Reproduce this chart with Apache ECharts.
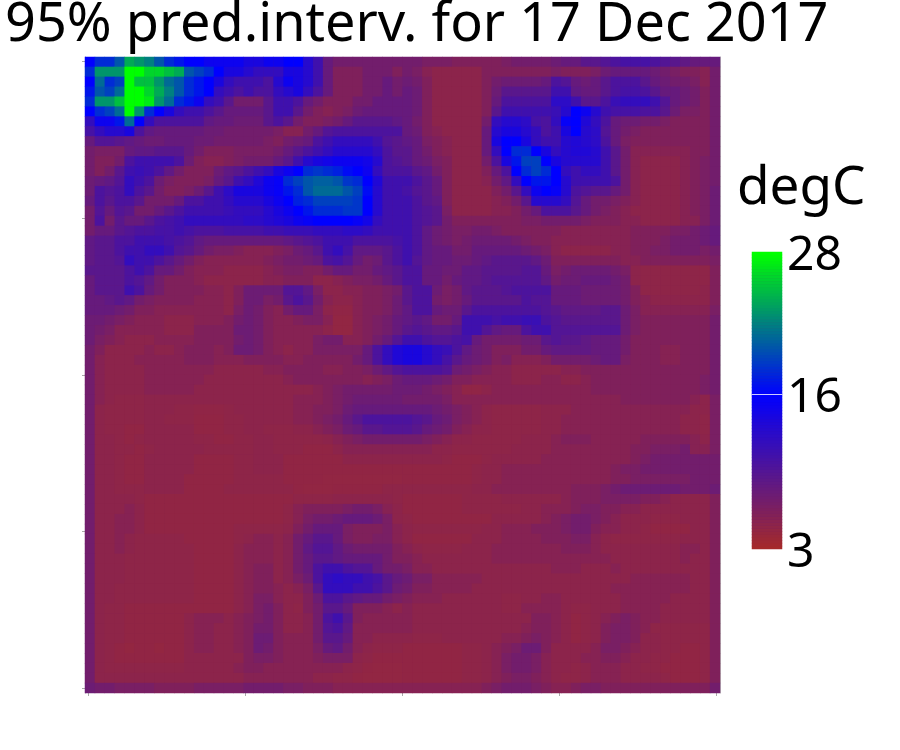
<!DOCTYPE html>
<html>
<head>
<meta charset="utf-8">
<title>95% pred.interv.</title>
<script src="https://cdn.jsdelivr.net/npm/echarts@6/dist/echarts.min.js"></script>
<style>
	html, body { margin: 0; padding: 0; background: #fff; }
	#chart { width: 900px; height: 750px; }
</style>
</head>
<body>
<div id="chart"></div>
<script>
var chartTitle = "95% pred.interv. for 17 Dec 2017";
var barTitle = "degC";
var barTicks = [3, 16, 28];
var axisSteps = [0, 1, 2, 3, 4];

// degC per cell, top row first (64 x 64)
var cells = [
[16,18,18,20,24,23,22,20,18,17,16,16,15,15,15,15,14,14,15,15,16,16,13,11,8,7,7,7,7,7,7,7, 7,7,6.5,6.5,6.5,6,6,6,6,6,6.5,7,7,7,7,7.5,8,8,9,9,9.5,10,10.5,10.5,10.5,10,9.5,9,8.5,8,8,8],
[18,23,23,23,28,28,26,26,25,24,20,19,18,16,14,14,13,12,12,12,14,14,13,11,8,6,6,6,7,7,7,6, 7,6.5,5.5,5,5,5,5,5,6,6,6,6,6,6,6,6.5,6,6,6,6.5,7.5,8,8,8,8,7.5,7,6.5,6,6,5.5,7],
[16,21,18,19,28,25,25,23,21,20,18,17,16,14,12,11,11,11,10,13,15,14,13,11,8,6,6,6,7,7,8,7, 7.5,7,6,5,5,5,5,5,6,7,7.5,7.5,7.5,7.5,8,10,9.5,8,7.5,8,9,10,10,10,9,8,7.5,7,7,6.5,5.5,7],
[17,20,19,21,28,28,26,24,22,20,18,17,16,12,11,10,11,10,10,12,13,14,12,10,8,6,6,6,7,7,8,7, 8,7.5,6,5,5,5,5,5,6,7.5,9,9,9,9,9,11,11,8.5,8,8,9,10,10.5,10.5,10,9,8,8,7.5,7,6,7],
[18,23,23,25,28,28,27,23,21,18,17,15,12,11,9,7,7,7,9,11,11,10,8,7,6,6,6,7,7,8,8,8, 8,7.5,6,5,5,5,5,5,6,8,10,10,10,10,10,12.5,12.5,11,9,9,10,11.5,12,12,12,11,9.5,8,7.5,7,6,7],
[16,18,19,21,28,23,18,16,14,12,11,11,10,9,8,8,8,8,9,11,11,9,7,6,5.5,6,6.5,7.5,8,8,8,8, 8,7.5,6,5,5,5,5,5,6,9,11,11,11,11,11,11.5,13,16,15,13,11,10.5,10.5,10.5,10,10,9,7.5,6.5,6.5,6,7],
[12,15,15,17,21,16,12,10,10,10,10,10,8.5,8,8,7.5,7.5,7.5,9,10,9,7,6,6,6.5,7,8,9,9,9,9,8.5, 8,7,6,5,5,5,5,5,7,12,13,13,12.5,10.5,10,12,15.5,16,13.5,12,10,8,7.5,7.5,7,7,6.5,6,6,6,6,7],
[10.5,12,13,13,14,10,8.5,8,8,8,8,8,7.5,7.5,7,7,7,7,7,6.5,5.5,5.5,7,8,9.5,10,10,10,10,10,10,10, 8,7.5,6,5.5,5,5,5,5,8,13,14,14,13,12,10,11,14,16,13,12.5,9.5,8,7,6.5,6,6,6,6,6,6,6,7],
[8,9.5,9.5,9,8.5,8,7.5,7.5,8,8,8,7.5,7.5,7,7,7,7,7,6.5,6,7,7.5,8,10,11,12,12,12,12,11,9.5,9, 8.5,8,6.5,6,5.5,5,5,5,8,14,16,16,14,12,11,11,13,13.5,13,12.5,10,8,6.5,6,6,6,6,6,6,6,6,7],
[7,6.5,6.5,6.5,8,8.5,8.5,9,9,9,8,7,6,6,6,6.5,6.5,6.5,6.5,7,8,9,10,11,12,13,13,13,13,12,10,9, 9,8,7,6,5.5,5,5,5,8,12,16,18,18,16,14,12,13,13.5,13.5,13,11,9,7,5.5,5.5,5.5,5.5,5.5,5.5,6,6,7],
[7,6,6,7,10,11,11,11,11,10,7.5,6,5.5,5.5,6,6.5,7,7,7,8,9,11,13,14,14.5,15,15,15,14.5,13,10,9.5, 9,8,7.5,6.5,6,5,5,5,7,10,14,17,19,19,16,14,13,13,13,13,11,9,7,5.5,5,5,5,5,5.5,6,6.5,7],
[7,6,7,9,11,11.5,11,10,8.5,7,6,6,6,7.5,8.5,9,10,11,12,14,15,16,18,18.5,18,17.5,16.5,16,15,12,10,10, 10,9,8.5,7,6,5,5,5,6,8,10,16,18,19,18,16,12,11,12,12,11,9,7,5.5,5,5,5,5,5.5,6,6.5,7],
[7.5,8,8.5,9.5,12,11,10,7.5,6.5,6,6,6,6.5,8,9,11,12,13.5,15,15.5,18,19,20,20.5,20.5,20,18.5,18,16,13.5,11,11, 11,10,9,8,6,5,5,5,5.5,7,8.5,12,16,17,17,16,13,11,11,11,11,10,7,5.5,5,5,5,5,5.5,6,6.5,7],
[7.5,10,9.5,10,12,10,9,7,6,6,6.5,7.5,9,11,12.5,14,14,14,15,15.5,17,18,20,21,21,21,20,19,16.5,13,11,11, 10.5,9.5,9,8,6,5,5,5,5,6,7,9,12,15,16,15.5,13,10,9.5,9,9,8,7,5.5,5,5,5,5,5.5,6,6.5,7.5],
[8,10,9,10,10,9,7,7,7,8,10,10,11,11,12,13,13,13,14,15,16,17.5,18,19,19,19,19,18.5,16,13,11,11, 11,10,9,8.5,6,5,5,5,5,5.5,6,7,9,13,13,13,12,9.5,8,7,7,6.5,6,5.5,5,5,5,5,5.5,6,6.5,7.5],
[7,9.5,8,9.5,9,7,7,8,9,10,11,11,11,11,11.5,12,12,12,13,14,15,16,17,18,18,18,18.5,18.5,16,13,11,11, 11,10,9.5,9,6.5,5,5,5,5,5.5,5.5,6,7,8,10,10,10,9,8,7,6.5,6,5.5,5,5,5,5,5,5.5,6,6.5,7.5],
[7,10,7,9,8,8,9,10,10.5,11,12,12,12,12,12,12,12.5,12.5,13,13.5,14,15,15.5,16,16,16,16,15.5,14.5,12,11,11, 11,10,9.5,9,7,6,6,6,6,6,6,6,6.5,6.5,7,7,7,7,6.5,6,6,6,5.5,5.5,5,5,5,5,5.5,5.5,6.5,7.5],
[7,8,8,9,9.5,10,10,10.5,10.5,11,10.5,10,10,10,10.5,10.5,10.5,10.5,11,11,11.5,11.5,11.5,12,12,12,12.5,12.5,12,11,11,11, 11,10,8.5,7.5,7,6.5,6.5,7,7,6.5,6,6,6,6,6,6,5.5,5.5,5.5,5.5,5.5,5.5,5.5,6,6,6,6,6.5,6.5,7,7.5,8],
[8.5,9,9,10,10,11,11,11,10.5,10,9.5,8.5,8,8,8,8,8,8,8,8,8.5,9,9.5,10,11,11,11,10,10,10,10,10.5, 11,10,8.5,7.5,7,6.5,7,7.5,7.5,7.5,7.5,7,6.5,6,6,5.5,5.5,5.5,5.5,5.5,5.5,5.5,5.5,6,6,6,6.5,7,7,7,7.5,8],
[8.5,9,9,10,11,11,12,12,11,9.5,9,8,7,6.5,6.5,6,5.5,5.5,5.5,6,6.5,7.5,8,9,11,12,10.5,8.5,8.5,8.5,9,10, 11,10,8.5,8,8,7,7,8,8,8,8,8,7.5,7,6.5,5.5,5,5,5,5,5,5.5,5.5,6,6,6.5,6.5,7,7,7,6.5,7],
[8.5,9,9,9.5,12,11,11,10,9,8,7,6,5.5,5.5,5.5,5.5,5.5,5.5,6,6.5,7,7,7.5,8,10,10.5,9.5,8,7,7.5,9,10, 11,9.5,8.5,8,8,7.5,7.5,8,8.5,9,9,9,9,8.5,7.5,6,6,6,6,6,6,6,5.5,5.5,6,6,6,6,6,6,6,6.5],
[9,9,9,9,10,11,10,8,8,7,6,5.5,5.5,5.5,5,5,5,5,5.5,6,6.5,6.5,6,6,7,8,8,7,7,8,8.5,9, 10,10,8,8,7.5,7.5,8.5,8.5,9,9,9,9,9.5,9.5,8,6.5,7,7.5,7.5,7.5,7.5,7,6.5,5,4.8,4.8,4.8,4.8,4.8,4.8,4.8,6],
[8,9,9,9,10,9.5,8.5,7,6,6,6,5.5,5,5,5,5,5,5,5.5,5.5,6,6,6,5,5,5.5,6,6.5,6.5,7,8,9, 10,10,8,8,7,8,8.5,8.5,9,9.5,9.5,9.5,9.5,9.5,8.5,7,7.5,7.5,8,8,8,7.5,7,5,4.8,4.8,4.8,4.8,4.8,4.8,4.8,6],
[8,9,9,9,11,10,8,7,6,6,6,6,5.5,5.5,5,6,7.5,7.5,7.5,7.5,9.5,9.5,8.5,6.5,5,5,5.5,5.5,6,6,6.5,7, 9,10,10,7.5,6.5,7,8.5,9,9,9,9.5,10,10,10,10,8,8,8,7.5,7.5,7.5,7.5,7,6,4.8,4.8,4.8,4.8,4.8,4.8,5,6],
[8,8,8.5,9,8.5,7,6.5,6,6,6,6,5.5,5.5,5.5,5,6,7.5,7.5,6.5,7,9,10,9,7,5.5,5,5,5.5,6,6,6.5,7.5, 9,10,10,7,6.5,7,8,9,9,9,9,9,10,9.5,9.5,8,8,8,7.5,7.5,7.5,7.5,7,6,5.5,5,5,5,5,5,5,6],
[8,8,8,7.5,7,6,6,5.5,5.5,5.5,5.5,5.5,5.5,5.5,5,6.5,7.5,7,6,5.5,7,8,8,6.5,5,4.7,4.7,5.5,6,6,6.5,7.5, 8.5,10,10,8,7.5,7.5,9,10,10,10,10,10,10,10,9.5,9,8.5,8.5,8.5,8.5,9,9,7.5,6.5,5.5,5.5,5.5,5.5,5.5,5.5,5.5,6.5],
[7.5,7.5,7,6.5,6,5.5,5.5,5.5,5,5,5,5.5,5.5,5.5,6,7,7.5,7,6,5.5,5.5,6,6.5,6.5,5.5,4.5,4.5,5.5,6,6.5,7,8, 8.5,9,8.5,7,7,8,11,11,11,10.5,11,11,11.5,11.5,10,9.5,9,9,9,9,9,9,7.5,6.5,6,6,6,6,6,6,6,7],
[7.5,7,6.5,5.5,5.5,5.5,5.5,5.5,5,5,5,6,6,6,6,7.5,7.5,7,6,5.5,5.5,5.5,5.5,5.5,5,4.5,4.5,5.5,6,6.5,7,8, 9,9.5,9,8.5,8.5,9,11,11,9.5,8.5,8,8,10,11,11,9.5,9.5,9.5,9.5,9.5,9.5,9.5,7.5,6.5,6,6,6,6,6,6,6,7],
[7.5,6.5,6,5.5,5,5,5,5.5,5.5,5.5,5.5,6,6,6,6,7,7.5,7,6,5.5,5.5,5.5,5.5,6.5,7,7,5.5,5.5,6,7,8,9.5, 11,11,10,9.5,9.5,10,10.5,8,7,7,7,7,7.5,7.5,9,9.5,9,9,8.5,8,8,8,7,6,6,6,6,6,6,6,6,7],
[7,6,5,5,5,5,5.5,5,5,5.5,6,6,6,5.5,6,7.5,7.5,7,6,5.5,5,5.5,5.5,6.5,6.5,6.5,6.5,6.5,8,10,12,13.5, 14,14,13,12,11.5,10,8.5,7.5,7,6,6,6,7,7,8,8.5,8.5,8.5,8.5,8,8,8,7,6,6,6,5.5,5.5,6,6,6,7],
[7,5.5,5,5,5,5.5,5.5,5.5,5.5,5.5,6,6,6,5.5,5.5,5.5,6,6,6,6,5.5,5.5,6,6,6,6,6,7,8,10,12,13.5, 14,14,13,12,10.5,9,8,7.5,7,6,6.5,5.5,5.5,5.5,6,7,7,7,7,7.5,8,8,6.5,6,6,6,5.5,5.5,6,6,6,7],
[7,5.5,5,5,5,5,5.5,5.5,5.5,5.5,5.5,5.5,5.5,5,5,5,5,5,5.5,5.5,6,6,6,6,5.5,5.5,6,6,6.5,7.5,8.5,9.5, 10,10,10,10,9.5,7.5,7,6.5,6,5.5,5.5,5,5,5,5,5,5.5,5.5,6,6,6,6,6,6,6,6,6,6,6,6,6,7],
[7,5.5,5,5,5,5,5.5,5.5,5.5,5.5,5.5,5.5,5,5,5,5,5,5,5,5,5.5,6,6,6,6,6,6,6,5.5,6,6.5,7.5, 8,8,8,7.5,7,6,6,5.5,5.5,5.5,5.5,5,5,5,5.5,5.5,5,5,5.5,6,6,6,6,6,6,6,6,6,6,6,6.5,7],
[7,5.5,5,5,5,5,5.5,5.5,5.5,5.5,5.5,5,5,5,5,5,5,5,5,5,5,5,5,5.5,6,6.5,7,7,7,7,7,7.5, 7.5,7.5,7,6.5,6,5.5,4.7,4.7,5,5.5,5.5,5.5,5.5,5.5,5.5,5.5,5.5,5.5,5.5,6,6,6,6,6,6,6,6,6,6,6,6.5,7],
[7,5.5,5,4.8,4.8,4.8,5,5,5,5,5,5,5,5,5,5,5,5,5,5,5,5.5,5.5,5.5,6,6.5,7,7.5,7.5,7.5,7.5,7.5, 7,7,7,7,6.5,5.5,5.5,5.5,5.5,5.5,5.5,5.5,5.5,5.5,5.5,5.5,5.5,5.5,5.5,5.5,5.5,5.5,6,6,6,6,6,6,6,5.5,5,6.5],
[7,5,4.8,4.8,4.8,4.8,5,5,5,4.8,4.8,4.7,4.7,4.7,4.8,5,5,5,5,5,5,5.5,5.5,6,6,6.5,7.5,8,8,8,8,8, 8,8,8,7.5,7,6.5,6,5.5,5,4.8,4.8,4.8,4.8,4.8,5,5,5,5.5,5.5,5.5,5.5,5.5,5.5,5.5,5.5,5.5,5.5,5.5,5.5,5,5,6.5],
[7,5,4.8,4.8,4.8,4.8,5,5,4.8,4.8,4.8,4.6,4.6,4.6,4.8,4.8,5,5,5,5,5,5.5,5.5,6,6.5,7,8,9,10,10,10,10, 10,9.5,9,8,7.5,6.5,6,5.5,5,4.8,4.8,4.8,4.8,4.8,5,5,5.5,5.5,5.5,5.5,5.5,5.5,5.5,5.5,5.5,5.5,5.5,5.5,5,5,4.8,6.5],
[7,5,4.8,4.8,4.6,4.6,5,5,5,5,5,4.6,4.6,4.6,4.8,4.8,5,5,4.8,4.8,4.8,5,5,5.5,6,6.5,7.5,8,9,9,9.5,9.5, 9.5,9,8,7.5,7,6,5.5,5,5,4.8,4.8,4.8,4.8,4.8,5,5,5.5,5.5,5.5,5.5,5.5,5.5,5.5,5.5,5.5,5.5,5.5,5.5,5,5,4.8,6.5],
[7,5,5,4.8,4.6,4.8,5,5,5,5,5,4.8,4.8,4.6,4.6,4.8,4.8,5,5,4.8,4.8,4.8,4.8,4.8,5,5.5,6,6.5,7,7,7,7, 7,7,6.5,6,5.5,5,5,4.8,4.8,4.8,4.8,4.8,5,5,5,5.5,6,6,6,5.5,5.5,5.5,5.5,5.5,6,6,6,6,6,5.5,5,6.5],
[7,5,5,4.8,4.8,4.6,4.8,5,5,5,5,5,4.8,4.8,4.8,4.8,4.8,5,5,4.8,4.8,4.8,4.6,4.6,4.6,5,5.5,5.5,5.5,5.5,5.5,5.5, 5.5,5.5,5.5,5,5,4.8,4.8,4.8,4.8,4.8,4.8,5,5,5,5,5.5,5.5,5.5,5.5,5.5,5.5,5.5,5.5,6,6,6.5,6.5,6.5,7,5.5,5.5,6.5],
[7,5,5,4.8,4.6,4.6,5,5,5,5,5,4.6,4.6,4.6,4.6,4.8,4.8,5,5,5,4.6,4.6,4.6,4.6,4.6,4.6,5,5,5,5,5,5, 5,5,5,5,4.8,4.6,4.6,4.6,4.8,5,5,5,5,5,5.5,5.5,5.5,5.5,5.5,5.5,5.5,5.5,5.5,6,6.5,7,7,7,7,7,7,7],
[7,5,5,4.8,4.6,4.6,5,5,5,5,5,4.6,4.6,4.6,4.6,4.8,4.8,5,5,5,4.6,4.6,4.6,4.6,4.6,4.6,4.6,4.6,4.6,4.6,4.6,4.6, 4.6,4.6,4.6,4.6,4.6,4.6,4.6,4.8,5,5,5.5,5.5,5.5,5.5,5.5,5.5,5.5,5.5,5.5,5.5,5.5,6,6.5,6.5,7,7,7,7,7,7,7,7],
[7,5,5,4.8,4.6,4.6,5,5,5,5,4.6,4.6,4.6,4.6,4.6,4.8,4.8,4.8,4.8,4.8,4.6,4.6,4.6,4.6,4.5,4.5,4.5,4.5,4.5,4.5,4.5,4.5, 4.6,4.6,4.6,4.6,4.6,4.6,4.6,4.8,5,5,5.5,5.5,5.5,5.5,5.5,5.5,5.5,5.5,5.5,5.5,5.5,6,6,6.5,6.5,6.5,6.5,6.5,6.5,7,7,7],
[7,5,5,4.8,4.8,4.8,5,5,5,5,4.6,4.6,4.6,4.6,4.8,4.8,4.8,4.8,4.8,4.8,4.8,4.6,4.5,4.5,4.5,4.6,4.6,4.6,4.6,4.6,4.8,4.8, 4.8,4.8,4.8,4.8,4.8,4.8,4.8,5,5,5.5,5.5,5.5,5.5,5.5,5.5,5.5,5.5,6,6,6,6.5,7,7.5,7.5,7.5,7.5,7.5,7.5,7,7,7,7.5],
[7,5,5,5,5,4.8,4.6,4.6,4.6,4.6,4.6,4.6,4.6,4.6,4.6,4.6,4.6,4.6,4.6,4.6,4.6,4.8,4.8,4.8,4.8,5,5,5,5,5,5,4.8, 4.6,4.6,4.6,4.6,4.6,4.6,4.8,4.8,4.8,4.8,5,5,5,5,5,5,5.5,6,6,6,6.5,6.5,6.5,6.5,6,6,5.5,5,5,5,5,6],
[7,5,5,5,5.5,5,4.6,4.6,4.6,4.6,4.6,4.6,4.6,4.6,4.6,4.6,4.6,4.6,4.6,4.6,4.8,5.5,6,6,6,6,6.5,7,7,6.5,5.5,5, 4.6,4.6,4.6,4.6,4.6,4.6,4.8,4.8,4.8,4.8,4.8,4.8,5,5,5.5,5.5,5.5,6,6.5,6.5,6,6,5.5,5.5,5,5,5,5,5,5,5,6],
[7,5,5,5.5,5.5,5,4.6,4.6,4.6,4.6,4.6,4.6,4.6,4.6,4.6,4.6,4.6,4.6,4.6,4.6,4.8,5.5,6.5,7,7,7.5,8,8,8,7.5,6.5,5, 4.8,4.6,4.6,4.6,4.6,4.6,4.6,4.6,4.6,5,5,5,5,5,5.5,6,6.5,7,7,6.5,6,5.5,5,5,5,4.8,4.8,4.8,5,5,5,6],
[7,5,5,5.5,5.5,5,4.6,4.6,4.6,4.6,4.6,4.6,4.6,4.6,4.6,4.8,4.8,4.8,4.8,4.8,5,6,7,8,8,8,6.5,6,6,6,6.5,5.5, 5,4.8,4.8,4.8,4.8,4.8,4.8,4.8,5,5,5.5,5.5,5.5,6,6,6,6.5,7,7,6,5.5,5.5,5,5,4.8,4.6,4.6,4.6,4.6,5,5,6],
[7,5,5,5.5,5,4.8,4.8,4.8,4.8,4.8,4.6,4.6,4.6,4.6,4.6,4.8,5,5.5,5.5,5,5.5,7,8,9,9,8,6.5,6,6,6.5,6.5,5.5, 5,4.6,4.6,4.6,4.6,4.6,4.6,5,5,5,5.5,5.5,5.5,5.5,6,6,6,6.5,6.5,5.5,5,4.8,4.8,4.8,4.8,4.8,4.8,4.8,5,5,5,6],
[7,5,5,5.5,5,4.8,4.8,4.8,4.8,4.8,4.8,4.6,4.6,4.6,4.6,5,5.5,5.5,5.5,5,5.5,7,8.5,9.5,9.5,8.5,7.5,7,7,7,7,6, 5.5,5,4.8,4.8,4.8,4.8,5,5,5,5.5,5.5,5.5,5.5,5.5,5.5,5.5,6,6,6,5.5,5,5,5,5,5,5,5,5,5.5,5.5,5,6],
[7,5,5,5,4.8,4.8,4.8,4.8,4.8,4.8,4.8,4.6,4.6,4.6,4.6,5,5.5,5.5,5.5,5,5.5,7,8,9,9,8.5,8,8,8,8,7,6, 6,5.5,5,5,5,5,5,5,5,5.5,5.5,5.5,5.5,5.5,5.5,5.5,5.5,5.5,5.5,5.5,5.5,5,5,5,5,5,5,5,5.5,5,5,6],
[7,5,5,5,4.8,4.8,4.8,4.8,4.8,4.8,4.8,4.6,4.6,4.6,4.6,5,5.5,6,6,5,5.5,7,8,10,11,11,10,9.5,9.5,8,7,7, 6.5,5.5,5.5,5,5,5,5,5,5,5,5,5,5,5,5,5.5,5.5,5.5,5,5,5,5.5,5,5,5,5,5,5,5,5,5,6],
[7,5,5,5,4.8,4.8,4.8,4.8,4.8,4.8,4.8,4.6,4.6,4.6,4.6,5,5.5,6,6,5,5.5,6.5,7.5,10,12,12.5,12,12,11,10.5,9,8, 7.5,6.5,6.5,5.5,5.5,5.5,5.5,5.5,5,5,5,5,5,5,5,5,5,5,5,5,5,5,5,5.5,5.5,5.5,5.5,5.5,5.5,5,5,6],
[7,5,5,4.8,4.8,4.8,4.8,4.8,4.8,4.8,4.8,4.6,4.6,4.6,4.6,5,5.5,6,6,5.5,5,5.5,6.5,9,12,12,12,11,11,10,9,7.5, 7,6,6,5.5,5.5,5.5,5.5,5,5,5,5,5,5,5,5,5,5,5,5,5,5,5.5,5.5,5.5,5.5,5.5,5.5,5.5,5.5,5,5,6],
[7,5,5,4.8,4.8,4.8,4.8,4.8,4.8,4.8,4.8,4.6,4.6,4.6,4.6,5,5.5,6.5,6.5,5.5,5,5,6,7.5,10,10,9,8.5,8,8,7,6.5, 6,5.5,5.5,5.5,5,5,5,5,5,5,4.8,4.8,5,5,5.5,5.5,5,5,5,5,5,5,5.5,5.5,5.5,5.5,5.5,5,5,5,5,6],
[7,5,4.8,4.8,4.6,4.6,4.6,4.6,4.6,4.6,4.6,4.6,4.6,4.6,4.6,5,5.5,6.5,7,6,5,4.8,6,7,9,9,8,6,6,6,5.5,5, 5.5,5,5,5,5,5,5,5,5,5,4.8,4.8,5.5,5.5,5.5,5.5,5,4.8,4.8,5,5,5,5.5,5.5,5.5,5.5,5,5,5,5,5,6],
[7,5,4.8,4.8,4.6,4.6,4.6,4.6,4.6,4.6,5,5.5,5.5,5.5,5,5.5,6,6.5,7,6,5,5,5.5,7,10,11,9,6,5.5,5.5,5.5,5.5, 5.5,5,5,5,5,5,5,5,5,5,5,5,5,6,6,5.5,5,4.6,4.8,5,5.5,6,6.5,6,5.5,5.5,5,5,5,5,5,6],
[7,5,4.8,4.8,4.6,4.6,4.6,4.6,4.6,4.6,5,5.5,5.5,5,5,5.5,6,7,7,6,5,5,5.5,7,9.5,10,8.5,5.5,5.5,5.5,5.5,5.5, 5.5,5,5,5,5,5,5,5,5,5,5,5,5.5,6,6,5.5,5,4.6,4.8,5,6,6.5,6.5,6,5.5,4.8,4.8,4.8,4.8,4.8,4.8,6],
[7,5,4.8,4.8,4.6,4.6,4.6,4.6,4.6,4.6,5,5.5,5.5,5,5,5.5,6,7.5,7.5,6,5.5,5.5,5.5,7,9,9,8,5.5,5.5,5,5,5, 5,4.8,4.8,4.8,5,5,5,5,5,5,5.5,5.5,6,6.5,6,5.5,5,4.6,4.8,5,6,6.5,6.5,6,5,5,4.8,4.8,4.8,4.8,4.8,6],
[7,5,4.8,4.6,4.4,4.6,4.6,4.4,4.6,4.6,5,5.5,5.5,5,5,5.5,6,7.5,7,6,5.5,5.5,5.5,6.5,8,8.5,7,5.5,5,4.8,4.8,4.8, 4.6,4.6,4.6,4.6,4.6,4.6,4.8,4.8,5,5.5,6,6.5,7.5,7.5,6,5,5,5,5,5.5,6.5,6.5,6,5.5,5,5,4.8,4.8,4.6,4.6,4.8,6],
[7,5,4.8,4.6,4.6,4.6,4.6,4.6,4.6,4.6,5,5,5,5,5,5,6,6.5,6.5,6,5.5,5.5,5.5,6,6.5,6.5,6.5,5,4.8,4.6,4.6,4.6, 4.6,4.6,4.6,4.6,4.6,4.6,4.8,4.8,5,5.5,6.5,7,7,6.5,5.5,5,5,5,5.5,5.5,6,6,5.5,5,5,4.8,4.8,4.6,4.6,4.6,4.8,6],
[7,5,4.8,4.8,4.8,4.8,4.8,4.8,4.8,4.8,5,5,5,5,5,5.5,6,6,5.5,5.5,5.5,5.5,5.5,5.5,5.5,5.5,5,4.8,4.6,4.5,4.5,4.5, 4.6,4.6,4.6,4.6,4.6,4.6,4.8,4.8,5,5.5,6.5,7,7,6.5,5.5,5,5,4.8,5,5.5,5.5,5.5,5,5,4.8,4.8,4.6,4.6,4.6,4.6,4.8,6],
[7,5,5,5,5,5,5,5,5,5,5,5,5,5,5,5,5.5,5.5,5.5,5.5,5.5,5.5,5.5,5,5,4.8,4.8,4.6,4.5,4.5,4.5,4.5, 4.6,4.6,4.6,4.6,4.6,4.6,4.8,4.8,5,5.5,6,6.5,6.5,6,5.5,5,4.8,4.8,5,5.5,5.5,5.5,5,5,5,5,4.8,4.6,4.6,4.6,4.8,6],
[7.5,7,7,6.5,6.5,6.5,6.5,6,6,6,6,6.5,6.5,6.5,6.5,6.5,7,7,7,7,6.5,6.5,6,6,6,5.5,5.5,5.5,5.5,5.5,5.5,5.5, 5.5,5.5,5.5,5.5,5.5,5.5,5.5,5.5,6,6.5,7,7,7,6.5,6,5.5,5.5,6,6.5,6.5,6,6,6,6,6,6,6,6,6,6,6,7]
];

var colsX = cells[0].map(function (v, i) { return i; });
var rowsY = cells.map(function (r, i) { return i; });

var heatData = [];
cells.forEach(function (row, y) {
	row.forEach(function (v, x) {
		heatData.push([x, y, v]);
	});
});

// the colour bar is a one column heatmap, a quarter degree per cell
var barLevels = [];
var barData = [];
for (var lev = 3; lev <= 28; lev += 0.25) {
	barData.push([0, barLevels.length, lev]);
	barLevels.push(lev);
}

// brown -> blue at 16 -> green, one stop per degree so 16 sits where the bar has it
function barColor(v) {
	var from, to, t;
	if (v <= 16) {
		from = [165, 42, 42]; to = [0, 0, 255]; t = (v - 3) / 13;
	} else {
		from = [0, 0, 255]; to = [0, 255, 0]; t = (v - 16) / 12;
	}
	return "rgb(" + from.map(function (c, i) { return Math.round(c + (to[i] - c) * t); }).join(",") + ")";
}
var barColors = [];
for (var d = 3; d <= 28; d++) {
	barColors.push(barColor(d));
}

var font = "Noto Sans";
var chart = echarts.init(document.getElementById("chart"), null, { renderer: "canvas" });

chart.setOption({
	animation: false,
	backgroundColor: "#fff",
	title: [
		{ text: chartTitle, left: 5, top: -1, padding: 0, textStyle: { fontFamily: font, fontSize: 54, fontWeight: "normal", color: "#000" } },
		{ text: barTitle, left: 737, top: 162, padding: 0, textStyle: { fontFamily: font, fontSize: 53, fontWeight: "normal", color: "#000" } }
	],
	tooltip: { show: false },
	grid: [
		// fill behind the cells so the rounding between them does not show white
		{ left: 85, top: 57, width: 635, height: 636, show: true, backgroundColor: "rgb(125,32,85)", borderWidth: 0 },
		{ left: 752, top: 252, width: 30, height: 297, show: true, backgroundColor: "rgb(90,25,135)", borderWidth: 0 },
		// bar labels sit a little below their ticks
		{ left: 752, top: 256, width: 30, height: 297 }
	],
	xAxis: [
		{ type: "category", gridIndex: 0, data: colsX, show: false },
		{
			type: "value", gridIndex: 0, position: "bottom", min: -0.02, max: 4.025,
			axisLine: { show: false }, splitLine: { show: false }, axisLabel: { show: false },
			axisTick: { show: true, length: 3, customValues: axisSteps, lineStyle: { color: "#aaa" } }
		},
		{ type: "category", gridIndex: 1, data: [0], show: false },
		{ type: "value", gridIndex: 2, min: 0, max: 1, show: false }
	],
	yAxis: [
		{ type: "category", gridIndex: 0, data: rowsY, inverse: true, show: false },
		{
			type: "value", gridIndex: 0, position: "left", inverse: true, min: -0.03, max: 4.03,
			axisLine: { show: true, lineStyle: { color: "#aaa" } }, splitLine: { show: false }, axisLabel: { show: false },
			axisTick: { show: true, length: 3, customValues: axisSteps, lineStyle: { color: "#aaa" } }
		},
		{
			type: "value", gridIndex: 0, position: "right", min: 0, max: 1,
			axisLine: { show: true, lineStyle: { color: "#bbb" } }, splitLine: { show: false },
			axisLabel: { show: false }, axisTick: { show: false }
		},
		{ type: "category", gridIndex: 1, data: barLevels, show: false },
		{
			type: "value", gridIndex: 1, position: "right", min: 3, max: 28, z: 10,
			axisLine: { show: false },
			axisTick: { show: false, customValues: [16] },
			splitLine: { show: true, lineStyle: { color: "rgba(255,255,255,0.8)", width: 1 } },
			axisLabel: { show: false }
		},
		{
			type: "value", gridIndex: 2, position: "right", min: 3, max: 28,
			axisLine: { show: false }, axisTick: { show: false }, splitLine: { show: false },
			axisLabel: { show: true, customValues: barTicks, margin: 5, fontFamily: font, fontSize: 48, color: "#000" }
		}
	],
	visualMap: {
		type: "continuous",
		show: false,
		seriesIndex: [0, 1],
		min: 3,
		max: 28,
		inRange: { color: barColors }
	},
	series: [
		{
			type: "heatmap",
			xAxisIndex: 0,
			yAxisIndex: 0,
			data: heatData,
			silent: true,
			progressive: 0,
			itemStyle: { borderWidth: 0 },
			emphasis: { disabled: true }
		},
		{
			type: "heatmap",
			xAxisIndex: 2,
			yAxisIndex: 3,
			data: barData,
			silent: true,
			progressive: 0,
			itemStyle: { borderWidth: 0 },
			emphasis: { disabled: true }
		}
	]
});
</script>
</body>
</html>
